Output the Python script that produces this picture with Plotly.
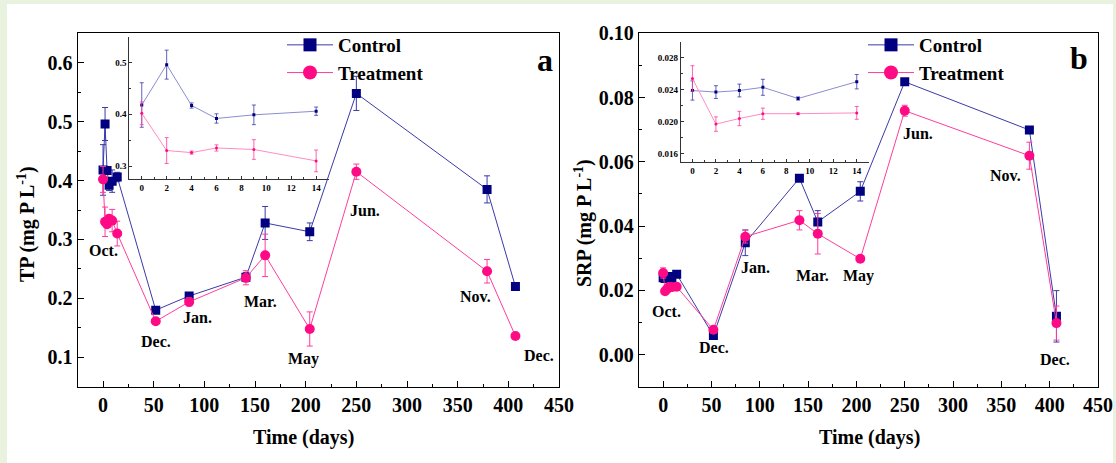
import plotly.graph_objects as go

# ---------------- data ----------------
days = [0, 2, 4, 6, 9, 14, 52, 85, 141, 160, 204, 250, 379, 407]
inset_days = [0, 2, 4, 6, 9, 14]

tp_control = [0.418, 0.496, 0.417, 0.392, 0.399, 0.406, 0.180, 0.204, 0.236, 0.328, 0.313, 0.548, 0.385, 0.220]
tp_control_err = [0.043, 0.028, 0.005, 0.009, 0.019, 0.008, 0.004, 0.005, 0.008, 0.028, 0.015, 0.029, 0.023, 0.004]
tp_treat = [0.402, 0.330, 0.326, 0.335, 0.332, 0.310, 0.161, 0.194, 0.235, 0.273, 0.148, 0.415, 0.246, 0.136]
tp_treat_err = [0.022, 0.025, 0.003, 0.006, 0.019, 0.021, 0.003, 0.007, 0.012, 0.036, 0.029, 0.013, 0.020, 0.004]

srp_control = [0.0239, 0.0237, 0.0239, 0.0243, 0.0229, 0.0250, 0.0059, 0.0348, 0.0549, 0.0413, 0.0508, 0.0849, 0.0699, 0.0119]
srp_control_err = [0.0012, 0.0008, 0.0008, 0.0010, 0.0002, 0.0009, 0.0005, 0.0040, 0.0010, 0.0035, 0.0030, 0.0008, 0.0008, 0.0080]
srp_treat = [0.0254, 0.0197, 0.0204, 0.0210, 0.0210, 0.0211, 0.0077, 0.0367, 0.0418, 0.0376, 0.0298, 0.0759, 0.0619, 0.0098]
srp_treat_err = [0.0016, 0.0009, 0.0009, 0.0007, 0.0001, 0.0008, 0.0010, 0.0020, 0.0030, 0.0063, 0.0005, 0.0017, 0.0042, 0.0053]

months_a = ["Oct.", "Dec.", "Jan.", "Mar.", "May", "Jun.", "Nov.", "Dec."]
months_a_x = [0.5, 52.5, 93, 155, 198, 259, 368, 430]
months_a_y = [0.281, 0.127, 0.168, 0.194, 0.097, 0.350, 0.203, 0.103]

months_b = ["Oct.", "Dec.", "Jan.", "Mar.", "May", "Jun.", "Nov.", "Dec."]
months_b_x = [3, 53, 96, 155, 202, 263.6, 354.7, 405.5]
months_b_y = [0.0134, 0.0023, 0.0272, 0.0246, 0.0246, 0.0688, 0.0556, -0.0014]

series_names = ["Control", "Treatment"]

# ---------------- styles ----------------
FONT = "Liberation Serif"
C_MARK = "#000080"
T_MARK = "#ff0a85"
C_LINE = "#3a3aa8"
T_LINE = "#ff3d9a"
C_LINE_IN = "#8c8cd0"
T_LINE_IN = "#ff8cc0"
W, H = 1116, 463


def px_x(p):
    return p / W


def px_y(p):
    return 1 - p / H


fig = go.Figure()


def add_main(xa, ya, yc, yce, yt, yte):
    fig.add_trace(go.Scatter(
        x=days, y=yc, mode="lines+markers", xaxis=xa, yaxis=ya, showlegend=False,
        line=dict(color=C_LINE, width=1),
        marker=dict(symbol="square", size=9, color=C_MARK),
        error_y=dict(type="data", array=yce, color=C_LINE, thickness=1, width=3)))
    fig.add_trace(go.Scatter(
        x=days, y=yt, mode="lines+markers", xaxis=xa, yaxis=ya, showlegend=False,
        line=dict(color=T_LINE, width=1),
        marker=dict(symbol="circle", size=10, color=T_MARK),
        error_y=dict(type="data", array=yte, color=T_LINE, thickness=1, width=3)))


def add_inset(xa, ya, yc, yce, yt, yte):
    n = len(inset_days)
    fig.add_trace(go.Scatter(
        x=inset_days, y=yc[:n], mode="lines+markers", xaxis=xa, yaxis=ya, showlegend=False,
        line=dict(color=C_LINE_IN, width=1),
        marker=dict(symbol="square", size=3, color=C_MARK),
        error_y=dict(type="data", array=yce[:n], color=C_LINE, thickness=0.8, width=2)))
    fig.add_trace(go.Scatter(
        x=inset_days, y=yt[:n], mode="lines+markers", xaxis=xa, yaxis=ya, showlegend=False,
        line=dict(color=T_LINE_IN, width=1),
        marker=dict(symbol="circle", size=3, color=T_MARK),
        error_y=dict(type="data", array=yte[:n], color=T_LINE, thickness=0.8, width=2)))


def add_legend(xa, ya, leg):
    fig.add_trace(go.Scatter(
        x=[None], y=[None], mode="lines+markers", xaxis=xa, yaxis=ya, name=series_names[0],
        legend=leg, line=dict(color=C_LINE, width=1),
        marker=dict(symbol="square", size=13, color=C_MARK)))
    fig.add_trace(go.Scatter(
        x=[None], y=[None], mode="lines+markers", xaxis=xa, yaxis=ya, name=series_names[1],
        legend=leg, line=dict(color=T_LINE, width=1),
        marker=dict(symbol="circle", size=14, color=T_MARK)))


add_main("x", "y", tp_control, tp_control_err, tp_treat, tp_treat_err)
add_main("x2", "y2", srp_control, srp_control_err, srp_treat, srp_treat_err)
add_inset("x3", "y3", tp_control, tp_control_err, tp_treat, tp_treat_err)
add_inset("x4", "y4", srp_control, srp_control_err, srp_treat, srp_treat_err)
add_legend("x", "y", "legend")
add_legend("x2", "y2", "legend2")

tickfont = dict(family=FONT, size=20, color="black", weight="bold")
smallfont = dict(family=FONT, size=9, color="black", weight="bold")

main_x = dict(range=[-25, 450], tick0=0, dtick=50, ticks="inside", ticklen=6, tickwidth=1,
              tickcolor="black", showline=True, linecolor="black", linewidth=1.3, mirror=True,
              showgrid=False, zeroline=False, tickfont=tickfont, automargin=False,
              minor=dict(dtick=25, ticks="inside", ticklen=3, tickcolor="black"))
main_y = dict(ticks="inside", ticklen=6, tickwidth=1, tickcolor="black", showline=True,
              linecolor="black", linewidth=1.3, mirror=True, showgrid=False, zeroline=False,
              tickfont=tickfont, automargin=False)
in_x = dict(range=[-1, 15], tick0=0, dtick=2, ticks="inside", ticklen=3, tickcolor="#333",
            showline=True, linecolor="#333", linewidth=1, mirror=False, showgrid=False,
            zeroline=False, tickfont=smallfont, automargin=False,
            minor=dict(dtick=1, ticks="inside", ticklen=2, tickcolor="#333"))
in_y = dict(ticks="inside", ticklen=3, tickcolor="#333", showline=True, linecolor="#333",
            linewidth=1, mirror=False, showgrid=False, zeroline=False, tickfont=smallfont,
            automargin=False)

fig.update_layout(
    template="none",
    width=W, height=H, margin=dict(l=0, r=0, t=0, b=0, pad=0, autoexpand=False),
    paper_bgcolor="#e9f1df", plot_bgcolor="rgba(0,0,0,0)",
    font=dict(family=FONT, color="black"),
    xaxis=dict(main_x, domain=[px_x(77.7), px_x(559)], anchor="y"),
    yaxis=dict(main_y, domain=[px_y(386.7), px_y(33.3)], anchor="x", range=[0.05, 0.65],
               tick0=0, dtick=0.1, tickformat=".1f",
               minor=dict(dtick=0.05, ticks="inside", ticklen=3, tickcolor="black")),
    xaxis2=dict(main_x, domain=[px_x(639), px_x(1098)], anchor="y2"),
    yaxis2=dict(main_y, domain=[px_y(386.7), px_y(33.3)], anchor="x2", range=[-0.01, 0.10],
                tick0=0, dtick=0.02, tickformat=".2f",
                minor=dict(dtick=0.01, ticks="inside", ticklen=3, tickcolor="black")),
    xaxis3=dict(in_x, domain=[px_x(129.3), px_x(328.6)], anchor="y3"),
    yaxis3=dict(in_y, domain=[px_y(179), px_y(36.7)], anchor="x3", range=[0.275, 0.55],
                tick0=0, dtick=0.1, tickformat=".1f",
                minor=dict(dtick=0.05, ticks="inside", ticklen=2, tickcolor="#333")),
    xaxis4=dict(in_x, domain=[px_x(680.7), px_x(868.5)], anchor="y4"),
    yaxis4=dict(in_y, domain=[px_y(161.7), px_y(41.7)], anchor="x4", range=[0.015, 0.030],
                tick0=0, dtick=0.004, tickformat=".3f",
                minor=dict(dtick=0.002, ticks="inside", ticklen=2, tickcolor="#333")),
    legend=dict(x=px_x(282), y=px_y(26), xanchor="left", yanchor="top",
                bgcolor="rgba(0,0,0,0)", font=dict(family=FONT, size=19, weight="bold"),
                tracegroupgap=0, itemwidth=46),
    legend2=dict(x=px_x(863), y=px_y(26), xanchor="left", yanchor="top",
                 bgcolor="rgba(0,0,0,0)", font=dict(family=FONT, size=19, weight="bold"),
                 tracegroupgap=0, itemwidth=46),
    shapes=[dict(type="rect", xref="paper", yref="paper", x0=px_x(7), x1=px_x(1113),
                 y0=0, y1=px_y(4), fillcolor="white", line=dict(width=0), layer="below")],
)

ann = []
lab_font = dict(family=FONT, size=16, color="black", weight="bold")
for t, x, y in zip(months_a, months_a_x, months_a_y):
    ann.append(dict(text=t, x=x, y=y, xref="x", yref="y", showarrow=False, font=lab_font,
                    xanchor="center", yanchor="middle"))
for t, x, y in zip(months_b, months_b_x, months_b_y):
    ann.append(dict(text=t, x=x, y=y, xref="x2", yref="y2", showarrow=False, font=lab_font,
                    xanchor="center", yanchor="middle"))

title_font = dict(family=FONT, size=20, color="black", weight="bold")
big_font = dict(family=FONT, size=32, color="black", weight="bold")
for text, x, y, angle, fnt in [
    ("Time (days)", 303.6, 437, 0, title_font),
    ("Time (days)", 869, 437, 0, title_font),
    ("TP (mg P L<sup>-1</sup>)", 27, 224, -90, title_font),
    ("SRP (mg P L<sup>-1</sup>)", 583, 223, -90, title_font),
    ("a", 545, 60, 0, big_font),
    ("b", 1079, 58, 0, big_font),
]:
    ann.append(dict(text=text, x=px_x(x), y=px_y(y), xref="paper", yref="paper",
                    showarrow=False, textangle=angle, font=fnt,
                    xanchor="center", yanchor="middle"))
fig.update_layout(annotations=ann)

fig.write_html("out.html", config={"displayModeBar": False},
               post_script="document.body.style.margin='0px';")
